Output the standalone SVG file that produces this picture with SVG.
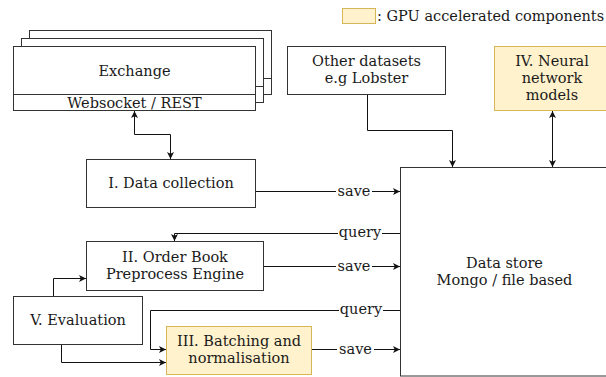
<svg xmlns="http://www.w3.org/2000/svg" width="606" height="377" viewBox="0 0 606 377">
<style>
text{font-family:'DejaVu Serif',serif;font-size:14.5px;fill:#1a1a1a;text-anchor:middle}
.box{fill:#fff;stroke:#333;stroke-width:1}
.gpu{fill:#fff2cc;stroke:#d6b656;stroke-width:1}
.edge{fill:none;stroke:#111;stroke-width:1}
.lbl{fill:#fff}
</style>
<defs>
<marker id="arr" viewBox="0 0 8 8" markerWidth="7" markerHeight="7" refX="8" refY="4" orient="auto-start-reverse" markerUnits="userSpaceOnUse">
<path d="M0,0 L8,4 L0,8 L2,4 z" fill="#111"/>
</marker>
</defs>

<g id="legend">
<rect class="gpu" x="342.5" y="8.5" width="33" height="15"/>
<text x="377" y="20.5" style="text-anchor:start">: GPU accelerated components</text>
</g>

<g id="exchange">
<rect class="box" x="29.5" y="30.5" width="242" height="64"/>
<line x1="29.5" y1="78.5" x2="271.5" y2="78.5" stroke="#333"/>
<rect class="box" x="21.5" y="38.5" width="242" height="64"/>
<line x1="21.5" y1="86.5" x2="263.5" y2="86.5" stroke="#333"/>
<rect class="box" x="13.5" y="46.5" width="242" height="64"/>
<line x1="13.5" y1="94.5" x2="255.5" y2="94.5" stroke="#333"/>
<text x="134.5" y="76">Exchange</text>
<text x="134.5" y="108">Websocket / REST</text>
</g>

<g id="other-datasets">
<rect class="box" x="287.5" y="46.5" width="158" height="48"/>
<text x="366.5" y="66">Other datasets</text>
<text x="366.5" y="82.5">e.g Lobster</text>
</g>

<g id="neural">
<rect class="gpu" x="494.5" y="46.5" width="120" height="64"/>
<text x="552" y="66">IV. Neural</text>
<text x="552" y="83">network</text>
<text x="552" y="100">models</text>
</g>

<g id="data-collection">
<rect class="box" x="86.5" y="159.5" width="169" height="48"/>
<text x="171" y="188">I. Data collection</text>
</g>

<g id="data-store">
<rect class="box" x="400.5" y="167.5" width="220" height="208.5"/>
<text x="504.5" y="268">Data store</text>
<text x="504.5" y="285">Mongo / file based</text>
</g>

<g id="order-book">
<rect class="box" x="86.5" y="241.5" width="177" height="49"/>
<text x="175" y="262">II. Order Book</text>
<text x="175" y="279">Preprocess Engine</text>
</g>

<g id="evaluation">
<rect class="box" x="13.5" y="296.5" width="129" height="48"/>
<text x="78" y="325">V. Evaluation</text>
</g>

<g id="batching">
<rect class="gpu" x="166.5" y="326.5" width="145" height="48"/>
<text x="239" y="346">III. Batching and</text>
<text x="239" y="363">normalisation</text>
</g>

<g id="connectors">
<path class="edge" d="M134.5,111 V134.5 H170.5 V159" marker-start="url(#arr)" marker-end="url(#arr)"/>
<path class="edge" d="M256,191.5 H400" marker-end="url(#arr)"/>
<path class="edge" d="M400,233.5 H174.5 V241" marker-end="url(#arr)"/>
<path class="edge" d="M264,266.5 H400" marker-end="url(#arr)"/>
<path class="edge" d="M400,310.5 H150.5 V349.5 H166" marker-end="url(#arr)"/>
<path class="edge" d="M312,349.5 H400" marker-end="url(#arr)"/>
<path class="edge" d="M53.5,296 V278.5 H86" marker-end="url(#arr)"/>
<path class="edge" d="M61.5,345 V362.5 H166" marker-end="url(#arr)"/>
<path class="edge" d="M367.5,95 V130.5 H452.5 V167" marker-end="url(#arr)"/>
<path class="edge" d="M552.5,111 V167" marker-start="url(#arr)" marker-end="url(#arr)"/>
<rect class="lbl" x="336" y="183" width="36" height="16"/>
<text x="354" y="196">save</text>
<rect class="lbl" x="336" y="258" width="36" height="16"/>
<text x="354" y="271">save</text>
<rect class="lbl" x="337" y="341" width="37" height="16"/>
<text x="355.5" y="354">save</text>
<rect class="lbl" x="338" y="225" width="44" height="16"/>
<text x="360" y="237">query</text>
<rect class="lbl" x="339" y="302" width="44" height="16"/>
<text x="361" y="314">query</text>
</g>
</svg>
